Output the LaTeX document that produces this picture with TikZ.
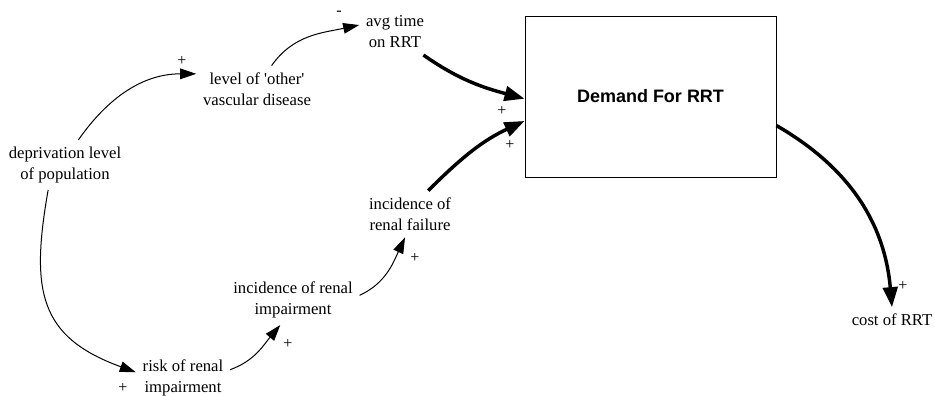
\documentclass[tikz,border=0pt]{standalone}
\usepackage{fontspec}
\setmainfont{Liberation Serif}
\newfontfamily\stockfont{Liberation Sans}
\usepackage{tikz}
\usetikzlibrary{arrows.meta,positioning}

\begin{document}
\begin{tikzpicture}[
    x=0.75pt, y=0.75pt,
    var/.style={align=center, inner sep=5pt, font=\fontsize{12.5}{15.75}\selectfont},
    stock/.style={draw, line width=0.75pt, minimum width=188.25pt, minimum height=120.75pt,
        font=\stockfont\bfseries\fontsize{13.5}{16}\selectfont},
    link/.style={-{Triangle[length=12pt, width=8pt]}, line width=0.75pt},
    flow/.style={-{Triangle[length=15pt, width=11pt]}, line width=2.6pt},
    sign/.style={inner sep=0pt, font=\fontsize{12}{14}\selectfont}
]
\useasboundingbox (0,0) rectangle (935,-396);

% Variables
\node[var] (dep) at (65,-165) {deprivation level\\of population};
\node[var] (lvl) at (257,-89) {level of \textquotesingle other\textquotesingle\\vascular disease};
\node[var] (avg) at (395,-32) {avg time\\on RRT};
\node[var] (irf) at (410,-214) {incidence of\\renal failure};
\node[var] (iri) at (293,-300) {incidence of renal\\impairment};
\node[var] (risk) at (183,-378) {risk of renal\\impairment};
\node[var] (cost) at (892,-320) {cost of RRT};

% Stock
\node[stock] (dem) at (650.5,-96.5) {Demand For RRT};

% Links
\draw[link] (dep.62.7) to[out=55, in=180] (lvl.166.9);
\draw[link] (lvl.58) to[out=55, in=192] (avg.169);
\draw[link] (dep.236.3) to[out=-100, in=160, looseness=1.3] (risk.173.4);
\draw[link] (risk.10) to[out=20, in=230] (iri.243.4);
\draw[link] (iri.4.5) to[out=25, in=245] (irf.258);
\draw[flow] (avg.-39.4) to[out=-35, in=165] (dem.181);
\draw[flow] (irf.52.8) to[out=45, in=205] (dem.191.5);
\draw[flow] (dem.-13.7) to[out=-30, in=95] (cost.north);

% Polarities
\node[sign] (s1) at (182,-61) {+};
\node[sign] (s2) at (339,-13) {-};
\node[sign] (s3) at (502,-111) {+};
\node[sign] (s4) at (510,-145) {+};
\node[sign] (s5) at (903,-286) {+};
\node[sign] (s6) at (123,-388) {+};
\node[sign] (s7) at (288,-344) {+};
\node[sign] (s8) at (415,-258) {+};

\end{tikzpicture}
\end{document}
